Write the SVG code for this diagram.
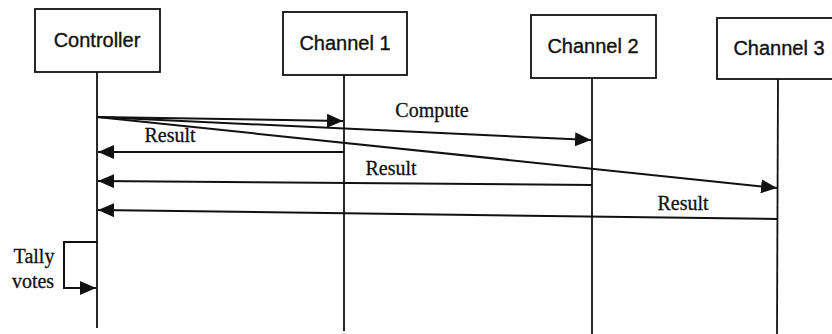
<svg xmlns="http://www.w3.org/2000/svg" width="832" height="334" viewBox="0 0 832 334">
<style>
.box{fill:#fff;stroke:#111;stroke-width:1.8}
.life{stroke:#111;stroke-width:1.8;fill:none}
.msg{stroke:#111;stroke-width:2;fill:none;marker-end:url(#ah)}
.bl{font-family:"Liberation Sans",Arial,sans-serif;font-size:20px;fill:#111;stroke:#111;stroke-width:0.35;text-anchor:middle}
.ml{font-family:"Liberation Serif","Times New Roman",serif;font-size:20px;fill:#111;stroke:#111;stroke-width:0.3;text-anchor:middle}
</style>
<defs>
<marker id="ah" markerUnits="userSpaceOnUse" markerWidth="16" markerHeight="14" refX="16" refY="7" orient="auto">
<path d="M0,0 L16,7 L0,14 Z" fill="#111"/>
</marker>
</defs>
<rect width="832" height="334" fill="#fff"/>
<g id="controller">
<rect class="box" x="35" y="9" width="125" height="63"/>
<text class="bl" x="97" y="47">Controller</text>
<line class="life" x1="97" y1="72" x2="97" y2="328"/>
</g>
<g id="channel1">
<rect class="box" x="283" y="12" width="124" height="63"/>
<text class="bl" x="345" y="50">Channel 1</text>
<line class="life" x1="344" y1="75" x2="344" y2="331"/>
</g>
<g id="channel2">
<rect class="box" x="531" y="15" width="125" height="63"/>
<text class="bl" x="593" y="53">Channel 2</text>
<line class="life" x1="592" y1="78" x2="592" y2="334"/>
</g>
<g id="channel3">
<rect class="box" x="717" y="18" width="124" height="61"/>
<text class="bl" x="779" y="55">Channel 3</text>
<line class="life" x1="778" y1="79" x2="777" y2="334"/>
</g>
<g id="connectors">
<path class="msg" d="M97,117 L343,121"/>
<path class="msg" d="M97,117 L591,140"/>
<path class="msg" d="M97,117 L777,188"/>
<path class="msg" d="M344,152 L98,152"/>
<path class="msg" d="M592,185 L98,181"/>
<path class="msg" d="M778,219 L98,210"/>
<path class="msg" d="M97,242 L64,242 L64,288 L96,288"/>
<text class="ml" x="432" y="117">Compute</text>
<text class="ml" x="170" y="142">Result</text>
<text class="ml" x="391" y="175">Result</text>
<text class="ml" x="683" y="210">Result</text>
<text class="ml" x="34" y="263">Tally</text>
<text class="ml" x="33" y="288">votes</text>
</g>
</svg>
